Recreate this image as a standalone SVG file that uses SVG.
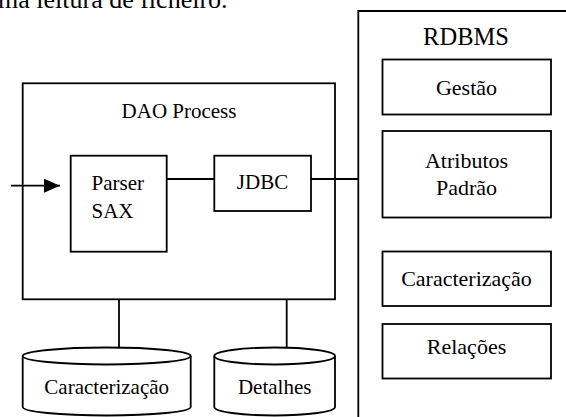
<svg xmlns="http://www.w3.org/2000/svg" width="566" height="417" viewBox="0 0 566 417" font-family="'Liberation Serif', 'DejaVu Serif', serif">
  <defs>
    <marker id="arrow" viewBox="0 0 16 14" refX="16" refY="7" markerWidth="16" markerHeight="14" markerUnits="userSpaceOnUse" orient="auto">
      <path d="M0,0 L16,7 L0,14 Z" fill="#000"/>
    </marker>
  </defs>
  <style>
    .box { fill: #fff; stroke: #000; stroke-width: 1.8; }
    .wire { fill: none; stroke: #000; stroke-width: 1.8; }
    text { font-family: 'Liberation Serif', 'DejaVu Serif', serif; fill: #000; }
    .t { font-size: 21px; text-anchor: middle; }
    .tl { font-size: 21px; text-anchor: start; }
    .tr { font-size: 22px; text-anchor: middle; }
    .title { font-size: 24.5px; text-anchor: middle; }
    .page { font-size: 26px; }
  </style>
  <rect width="566" height="417" fill="#fff"/>

  <!-- running text above the figure -->
  <text class="page" x="-2" y="8">ma leitura de ficheiro.</text>

  <!-- RDBMS container -->
  <g id="rdbms">
    <path class="box" d="M358.3,430 L358.3,11 L580,11"/>
    <text class="title" x="466" y="45">RDBMS</text>
  </g>
  <g id="gestao">
    <rect class="box" x="382.5" y="59.5" width="168.5" height="55"/>
    <text class="tr" x="466.5" y="95">Gestão</text>
  </g>
  <g id="atributos">
    <rect class="box" x="382.5" y="131" width="168.5" height="86.5"/>
    <text class="tr" x="466.5" y="168">Atributos</text>
    <text class="tr" x="466.5" y="195">Padrão</text>
  </g>
  <g id="caracterizacao-tab">
    <rect class="box" x="382.5" y="251.5" width="168.5" height="54.5"/>
    <text class="tr" x="466.5" y="286">Caracterização</text>
  </g>
  <g id="relacoes">
    <rect class="box" x="382.5" y="324" width="168.5" height="54.5"/>
    <text class="tr" x="466.5" y="353.5">Relações</text>
  </g>

  <!-- DAO process and its components -->
  <g id="dao">
    <rect class="box" x="22.7" y="83.3" width="312.3" height="216"/>
    <text class="t" x="179" y="118">DAO Process</text>
  </g>
  <g id="parser">
    <rect class="box" x="70.7" y="155.7" width="96" height="96"/>
    <text class="tl" x="91.5" y="190">Parser</text>
    <text class="tl" x="91.5" y="218">SAX</text>
  </g>
  <g id="jdbc">
    <rect class="box" x="214.3" y="155.7" width="96.7" height="55.3"/>
    <text class="t" x="262.5" y="189">JDBC</text>
  </g>

  <!-- data stores -->
  <g id="store-caracterizacao">
    <path class="box" d="M22.7,356 L22.7,407 A84,8.5 0 0 0 190.7,407 L190.7,356 A84,8.5 0 0 0 22.7,356 Z"/>
    <path class="wire" d="M22.7,356 A84,8.5 0 0 0 190.7,356"/>
    <text class="t" x="106.7" y="393.5">Caracterização</text>
  </g>
  <g id="store-detalhes">
    <path class="box" d="M214.3,356 L214.3,407 A60.35,8.5 0 0 0 335,407 L335,356 A60.35,8.5 0 0 0 214.3,356 Z"/>
    <path class="wire" d="M214.3,356 A60.35,8.5 0 0 0 335,356"/>
    <text class="t" x="274.7" y="393.5">Detalhes</text>
  </g>

  <!-- connectors -->
  <g id="connectors">
    <line class="wire" x1="11" y1="185.7" x2="60" y2="185.7" marker-end="url(#arrow)"/>
    <line class="wire" x1="166.7" y1="179" x2="214.3" y2="179"/>
    <line class="wire" x1="311" y1="179" x2="358.3" y2="179"/>
    <line class="wire" x1="119" y1="299.3" x2="119" y2="347.5"/>
    <line class="wire" x1="286.7" y1="299.3" x2="286.7" y2="347.5"/>
  </g>
</svg>
